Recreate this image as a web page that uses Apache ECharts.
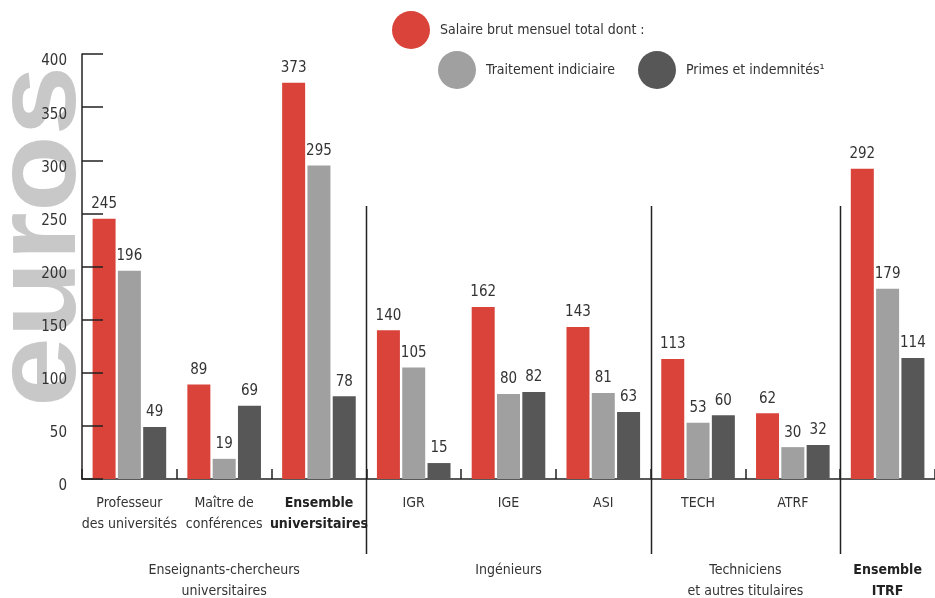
<!DOCTYPE html>
<html>
<head>
<meta charset="utf-8">
<script src="https://cdn.jsdelivr.net/npm/echarts@6/dist/echarts.min.js"></script>
<style>
html,body{margin:0;padding:0;background:#fff;}
#c{width:935px;height:598px;}
</style>
</head>
<body>
<div id="c"></div>
<script>
// ---- data ----
const categories = ["Professeur\ndes universités", "Maître de\nconférences", "Ensemble\nuniversitaires", "IGR", "IGE", "ASI", "TECH", "ATRF", "Ensemble ITRF"];
const boldCategories = [2];
const hiddenCategoryLabels = [8];
const seriesNames = ["Salaire brut mensuel total dont :", "Traitement indiciaire", "Primes et indemnités\u00b9"];
const totalValues = [245, 89, 373, 140, 162, 143, 113, 62, 292];
const traitementValues = [196, 19, 295, 105, 80, 81, 53, 30, 179];
const primesValues = [49, 69, 78, 15, 82, 63, 60, 32, 114];
const yTicks = [0, 50, 100, 150, 200, 250, 300, 350, 400];
const groupLabels = ["Enseignants-chercheurs\nuniversitaires", "Ingénieurs", "Techniciens\net autres titulaires", "Ensemble\nITRF"];
const groupSpans = [[0, 2], [3, 5], [6, 7], [8, 8]];
const boldGroups = [3];
const separatorsAfter = [2, 5, 7];
const unitLabel = "euros";

const FONT = '"Liberation Sans Narrow", "DejaVu Sans Condensed", "Roboto", sans-serif';
const FS = 14;
const colors = ['#d9433a', '#a0a0a0', '#575757'];
const TXT = '#333333';

const chart = echarts.init(document.getElementById('c'), null, {renderer: 'canvas'});

const valuesList = [totalValues, traitementValues, primesValues];
const series = valuesList.map((vals, i) => ({
  name: seriesNames[i],
  type: 'bar',
  data: vals,
  barWidth: 23,
  barGap: '10%',
  itemStyle: {color: colors[i]},
  label: {
    show: true, position: 'top', distance: 7,
    color: TXT, fontFamily: FONT, fontSize: FS + 1
  },
  emphasis: {disabled: true}
}));

const legendPos = [{left: 392, top: 11}, {left: 438, top: 51}, {left: 638, top: 51}];
const legends = seriesNames.map((n, i) => ({
  data: [n], left: legendPos[i].left, top: legendPos[i].top, padding: 0,
  icon: 'circle', itemWidth: 38, itemHeight: 38,
  selectedMode: false,
  textStyle: {color: TXT, fontFamily: FONT, fontSize: FS, padding: [0, 0, 0, 5]}
}));

chart.setOption({
  animation: false,
  backgroundColor: '#fff',
  textStyle: {fontFamily: FONT},
  legend: legends,
  grid: {left: 82, right: 0, top: 54, bottom: 119, containLabel: false},
  xAxis: {
    type: 'category',
    data: categories,
    axisLine: {lineStyle: {color: '#222', width: 1.5}},
    axisTick: {show: true, inside: true, length: 10, interval: 0, lineStyle: {color: '#222', width: 1.5}},
    axisLabel: {
      interval: 0, margin: 14, color: TXT, fontFamily: FONT, fontSize: FS, lineHeight: 21,
      formatter: (v, idx) => {
        if (hiddenCategoryLabels.includes(idx)) return '';
        if (boldCategories.includes(idx)) return v.split('\n').map(s => '{b|' + s + '}').join('\n');
        return v;
      },
      rich: {b: {fontWeight: 'bold', color: '#222', fontFamily: FONT, fontSize: FS, lineHeight: 21}}
    }
  },
  yAxis: {
    type: 'value', min: yTicks[0], max: yTicks[yTicks.length - 1], interval: yTicks[1] - yTicks[0],
    axisLine: {show: true, lineStyle: {color: '#222', width: 1.5}},
    axisTick: {show: true, inside: true, length: 21, lineStyle: {color: '#222', width: 1.5}},
    splitLine: {show: false},
    axisLabel: {color: TXT, fontFamily: FONT, fontSize: FS + 1, margin: 15, verticalAlign: 'top'},
    z: 5
  },
  series: series
});

// ---- decorations positioned from the axes ----
function catCenter(i) { return chart.convertToPixel({xAxisIndex: 0}, i); }
function boundaryAfter(i) { return (catCenter(i) + catCenter(i + 1)) / 2; }
const y0 = chart.convertToPixel({yAxisIndex: 0}, 0);
const yTop = chart.convertToPixel({yAxisIndex: 0}, 400);
const sepTop = chart.convertToPixel({yAxisIndex: 0}, 257);
const graphics = [];

graphics.push({
  type: 'text', z: -1,
  x: 43, y: (y0 + yTop) / 2 - 30,
  rotation: Math.PI / 2, scaleX: 1.08, scaleY: 1,
  style: {text: unitLabel, fill: '#c8c8c8', font: 'bold 116px "Liberation Sans", Arial, sans-serif',
          textAlign: 'center', textVerticalAlign: 'middle'}
});

separatorsAfter.forEach(i => {
  const x = Math.round(boundaryAfter(i)) + 0.5;
  graphics.push({type: 'line', shape: {x1: x, y1: sepTop, x2: x, y2: y0 + 75},
                 style: {stroke: '#222', lineWidth: 1.5}});
});

groupLabels.forEach((g, k) => {
  const [a, b] = groupSpans[k];
  const cx = (catCenter(a) + catCenter(b)) / 2;
  const bold = boldGroups.includes(k);
  graphics.push({
    type: 'text', x: cx, y: y0 + 81,
    style: {text: g, fill: bold ? '#222' : TXT,
            font: (bold ? 'bold ' : '') + FS + 'px ' + FONT,
            textAlign: 'center', textVerticalAlign: 'top', lineHeight: 21}
  });
});

chart.setOption({graphic: graphics});
</script>
</body>
</html>
